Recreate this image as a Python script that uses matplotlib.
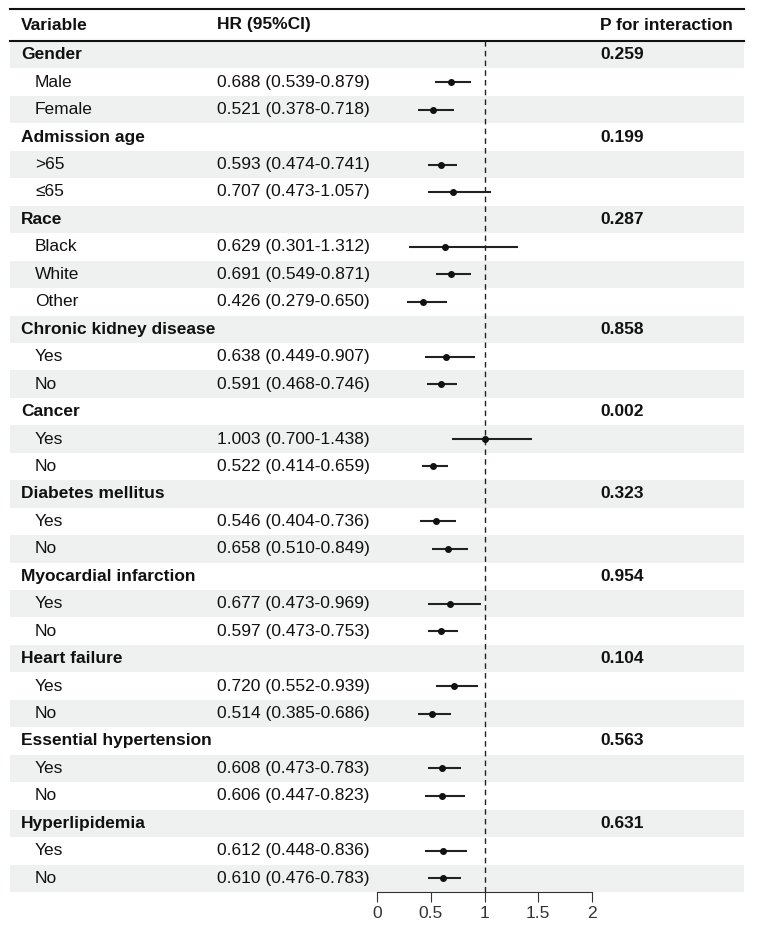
import matplotlib
matplotlib.use("Agg")
import matplotlib.pyplot as plt

plt.rcParams['font.family'] = ['Liberation Sans', 'DejaVu Sans']

# Data
groups = ['Gender', 'Admission age', 'Race', 'Chronic kidney disease', 'Cancer',
          'Diabetes mellitus', 'Myocardial infarction', 'Heart failure',
          'Essential hypertension', 'Hyperlipidemia']
p_values = ['0.259', '0.199', '0.287', '0.858', '0.002',
            '0.323', '0.954', '0.104', '0.563', '0.631']
sub_labels = [['Male', 'Female'], ['>65', '≤65'], ['Black', 'White', 'Other'],
              ['Yes', 'No'], ['Yes', 'No'], ['Yes', 'No'], ['Yes', 'No'],
              ['Yes', 'No'], ['Yes', 'No'], ['Yes', 'No']]
hr = [[0.688, 0.521], [0.593, 0.707], [0.629, 0.691, 0.426], [0.638, 0.591],
      [1.003, 0.522], [0.546, 0.658], [0.677, 0.597], [0.720, 0.514],
      [0.608, 0.606], [0.612, 0.610]]
lo = [[0.539, 0.378], [0.474, 0.473], [0.301, 0.549, 0.279], [0.449, 0.468],
      [0.700, 0.414], [0.404, 0.510], [0.473, 0.473], [0.552, 0.385],
      [0.473, 0.447], [0.448, 0.476]]
hi = [[0.879, 0.718], [0.741, 1.057], [1.312, 0.871, 0.650], [0.907, 0.746],
      [1.438, 0.659], [0.736, 0.849], [0.969, 0.753], [0.939, 0.686],
      [0.783, 0.823], [0.836, 0.783]]
x_ticks = [0, 0.5, 1, 1.5, 2]
x_tick_labels = ['0', '0.5', '1', '1.5', '2']

W, H = 757, 932
top_px, row_px = 41, 27.45
n_rows = sum(1 + len(s) for s in sub_labels)

fig = plt.figure(figsize=(W / 100, H / 100), dpi=100)

# background / table axes: x in figure fraction, y in rows
ax = fig.add_axes([0, 0, 1, 1])
ax.set_xlim(0, 1)
ax.set_ylim((H - top_px) / row_px - 0.5, -top_px / row_px - 0.5)
ax.axis('off')

x_left, x_right = 10 / W, 744 / W
x_var, x_sub, x_hr, x_p = 21 / W, 35 / W, 217 / W, 600 / W
fs = 12.5
text_color = '#111111'

# alternate row shading
for i in range(n_rows):
    if i % 2 == 0:
        ax.fill_between([x_left, x_right], i - 0.5, i + 0.5,
                        color='#eff1f0', lw=0, zorder=0)

# header
y_head = (25 - top_px) / row_px - 0.5
ax.plot([x_left, x_right], [(9 - top_px) / row_px - 0.5] * 2, color='#111', lw=1.5)
ax.plot([x_left, x_right], [-0.5, -0.5], color='#111', lw=1.5)
ax.text(x_var, y_head, 'Variable', fontsize=fs, fontweight='bold', va='center', color=text_color)
ax.text(x_hr, y_head, 'HR (95%CI)', fontsize=fs, fontweight='bold', va='center', color=text_color)
ax.text(x_p, y_head, 'P for interaction', fontsize=fs, fontweight='bold', va='center', color=text_color)

# forest axes
f_left, f_right = 377, 592
f_bottom = 892
fax = fig.add_axes([f_left / W, (H - f_bottom) / H, (f_right - f_left) / W, (f_bottom - top_px) / H])
fax.set_facecolor('none')
fax.set_xlim(0, 2)
fax.set_ylim((f_bottom - top_px) / row_px - 0.5, -0.5)
for s in ['top', 'right', 'left']:
    fax.spines[s].set_visible(False)
fax.spines['bottom'].set_color('#333')
fax.set_yticks([])
fax.set_xticks(x_ticks)
fax.set_xticklabels(x_tick_labels, fontsize=fs, color='#333')
fax.tick_params(axis='x', length=7, color='#333', pad=3)
fax.axvline(1, color='#222', ls=(0, (4, 3)), lw=1)

row = 0
for g, name in enumerate(groups):
    ax.text(x_var, row, name, fontsize=fs, fontweight='bold', va='center', color=text_color)
    ax.text(x_p, row, p_values[g], fontsize=fs, fontweight='bold', va='center', color=text_color)
    row += 1
    for k, lab in enumerate(sub_labels[g]):
        ax.text(x_sub, row, lab, fontsize=fs, va='center', color=text_color)
        ax.text(x_hr, row, f'{hr[g][k]:.3f} ({lo[g][k]:.3f}-{hi[g][k]:.3f})',
                fontsize=fs, va='center', color=text_color)
        fax.plot([lo[g][k], hi[g][k]], [row, row], color='#222', lw=1.5,
                 solid_capstyle='butt', clip_on=False)
        fax.plot(hr[g][k], row, 'o', color='#111', ms=4, clip_on=False)
        row += 1

fig.savefig('out.png', dpi=100)
